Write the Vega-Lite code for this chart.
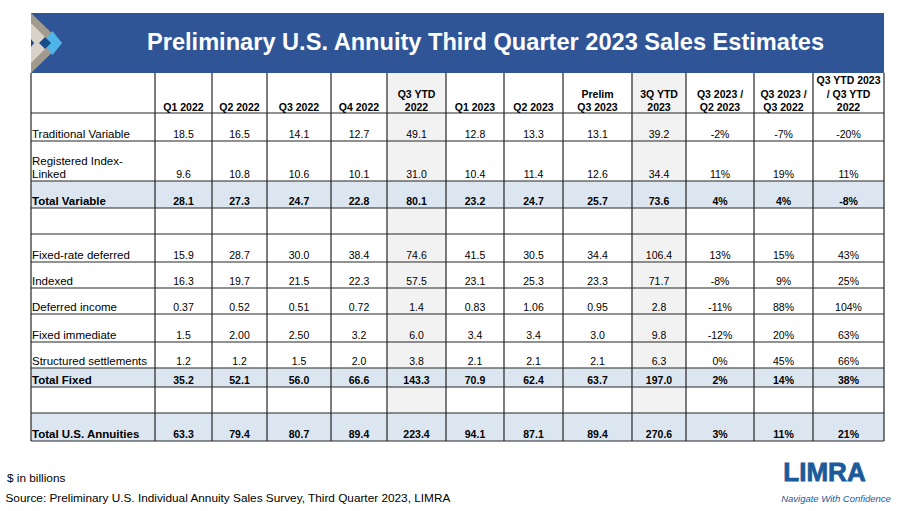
{
  "$schema": "https://vega.github.io/schema/vega-lite/v6.json",
  "width": 900,
  "height": 511,
  "autosize": {"type": "fit", "contains": "padding"},
  "padding": 0,
  "background": "white",
  "config": {"view": {"stroke": null}, "axis": {"disable": true}, "font": "Liberation Sans", "text": {"font": "Liberation Sans"}},
  "datasets": {
    "one": [{}],
    "columns": [
      {"key": "q1_22", "bot": "Q1 2022", "c": 1},
      {"key": "q2_22", "bot": "Q2 2022", "c": 2},
      {"key": "q3_22", "bot": "Q3 2022", "c": 3},
      {"key": "q4_22", "bot": "Q4 2022", "c": 4},
      {"key": "ytd22", "mid": "Q3 YTD", "bot": "2022", "c": 5},
      {"key": "q1_23", "bot": "Q1 2023", "c": 6},
      {"key": "q2_23", "bot": "Q2 2023", "c": 7},
      {"key": "q3_23", "mid": "Prelim", "bot": "Q3 2023", "c": 8},
      {"key": "ytd23", "mid": "3Q YTD", "bot": "2023", "c": 9},
      {"key": "qoq", "mid": "Q3 2023 /", "bot": "Q2 2023", "c": 10},
      {"key": "yoy", "mid": "Q3 2023 /", "bot": "Q3 2022", "c": 11},
      {"key": "ytdchg", "top": "Q3 YTD 2023", "mid": "/ Q3 YTD", "bot": "2022", "c": 12}
    ],
    "rows": [
      {"r": 1, "label": "Traditional Variable", "q1_22": "18.5", "q2_22": "16.5", "q3_22": "14.1", "q4_22": "12.7", "ytd22": "49.1", "q1_23": "12.8", "q2_23": "13.3", "q3_23": "13.1", "ytd23": "39.2", "qoq": "-2%", "yoy": "-7%", "ytdchg": "-20%"},
      {"r": 2, "label": "Registered Index-\nLinked", "q1_22": "9.6", "q2_22": "10.8", "q3_22": "10.6", "q4_22": "10.1", "ytd22": "31.0", "q1_23": "10.4", "q2_23": "11.4", "q3_23": "12.6", "ytd23": "34.4", "qoq": "11%", "yoy": "19%", "ytdchg": "11%"},
      {"r": 3, "label": "Total Variable", "q1_22": "28.1", "q2_22": "27.3", "q3_22": "24.7", "q4_22": "22.8", "ytd22": "80.1", "q1_23": "23.2", "q2_23": "24.7", "q3_23": "25.7", "ytd23": "73.6", "qoq": "4%", "yoy": "4%", "ytdchg": "-8%"},
      {"r": 4},
      {"r": 5, "label": "Fixed-rate deferred", "q1_22": "15.9", "q2_22": "28.7", "q3_22": "30.0", "q4_22": "38.4", "ytd22": "74.6", "q1_23": "41.5", "q2_23": "30.5", "q3_23": "34.4", "ytd23": "106.4", "qoq": "13%", "yoy": "15%", "ytdchg": "43%"},
      {"r": 6, "label": "Indexed", "q1_22": "16.3", "q2_22": "19.7", "q3_22": "21.5", "q4_22": "22.3", "ytd22": "57.5", "q1_23": "23.1", "q2_23": "25.3", "q3_23": "23.3", "ytd23": "71.7", "qoq": "-8%", "yoy": "9%", "ytdchg": "25%"},
      {"r": 7, "label": "Deferred income", "q1_22": "0.37", "q2_22": "0.52", "q3_22": "0.51", "q4_22": "0.72", "ytd22": "1.4", "q1_23": "0.83", "q2_23": "1.06", "q3_23": "0.95", "ytd23": "2.8", "qoq": "-11%", "yoy": "88%", "ytdchg": "104%"},
      {"r": 8, "label": "Fixed immediate", "q1_22": "1.5", "q2_22": "2.00", "q3_22": "2.50", "q4_22": "3.2", "ytd22": "6.0", "q1_23": "3.4", "q2_23": "3.4", "q3_23": "3.0", "ytd23": "9.8", "qoq": "-12%", "yoy": "20%", "ytdchg": "63%"},
      {"r": 9, "label": "Structured settlements", "q1_22": "1.2", "q2_22": "1.2", "q3_22": "1.5", "q4_22": "2.0", "ytd22": "3.8", "q1_23": "2.1", "q2_23": "2.1", "q3_23": "2.1", "ytd23": "6.3", "qoq": "0%", "yoy": "45%", "ytdchg": "66%"},
      {"r": 10, "label": "Total Fixed", "q1_22": "35.2", "q2_22": "52.1", "q3_22": "56.0", "q4_22": "66.6", "ytd22": "143.3", "q1_23": "70.9", "q2_23": "62.4", "q3_23": "63.7", "ytd23": "197.0", "qoq": "2%", "yoy": "14%", "ytdchg": "38%"},
      {"r": 11},
      {"r": 12, "label": "Total U.S. Annuities", "q1_22": "63.3", "q2_22": "79.4", "q3_22": "80.7", "q4_22": "89.4", "ytd22": "223.4", "q1_23": "94.1", "q2_23": "87.1", "q3_23": "89.4", "ytd23": "270.6", "qoq": "3%", "yoy": "11%", "ytdchg": "21%"}
    ]
  },
  "layer": [
    {
      "data": {"name": "one"},
      "mark": {"type": "rect", "color": "#2f5597"},
      "encoding": {
        "x": {"datum": 0, "type": "quantitative", "scale": {"domain": [0,1,2,3,4,5,6,7,8,9,10,11,12,13], "range": [31,155,212,267,331,387,446,504,563,632,686,754,813,884], "zero": false, "nice": false}},
        "x2": {"datum": 13},
        "y": {"datum": -1, "type": "quantitative", "scale": {"domain": [-1,0,1,2,3,4,5,6,7,8,9,10,11,12,13], "range": [13,73,113,141,181,208,234,262,288,314,342,368,387,413,441], "zero": false, "nice": false}},
        "y2": {"datum": 0}
      }
    },
    {
      "data": {"name": "one"},
      "mark": {"type": "point", "filled": true, "opacity": 1, "size": 3600, "strokeWidth": 0, "color": "#a39a8e", "shape": "M0,-1L1.033,0L0,1Z"},
      "encoding": {
        "x": {"datum": 0, "type": "quantitative", "scale": {"domain": [0,1,2,3,4,5,6,7,8,9,10,11,12,13], "range": [31,155,212,267,331,387,446,504,563,632,686,754,813,884], "zero": false, "nice": false}},
        "y": {"datum": -0.5, "type": "quantitative", "scale": {"domain": [-1,0,1,2,3,4,5,6,7,8,9,10,11,12,13], "range": [13,73,113,141,181,208,234,262,288,314,342,368,387,413,441], "zero": false, "nice": false}}
      }
    },
    {
      "data": {"name": "one"},
      "mark": {"type": "point", "filled": true, "opacity": 1, "size": 3600, "strokeWidth": 0, "color": "#d8d2c8", "shape": "M0,-0.667L0.667,0L0,0.667Z"},
      "encoding": {
        "x": {"datum": 0, "type": "quantitative", "scale": {"domain": [0,1,2,3,4,5,6,7,8,9,10,11,12,13], "range": [31,155,212,267,331,387,446,504,563,632,686,754,813,884], "zero": false, "nice": false}},
        "y": {"datum": -0.5, "type": "quantitative", "scale": {"domain": [-1,0,1,2,3,4,5,6,7,8,9,10,11,12,13], "range": [13,73,113,141,181,208,234,262,288,314,342,368,387,413,441], "zero": false, "nice": false}}
      }
    },
    {
      "data": {"name": "one"},
      "mark": {"type": "point", "filled": true, "opacity": 1, "size": 3600, "strokeWidth": 0, "color": "#4fb4e8", "shape": "M0.4,0L0.717,-0.4L1.033,0L0.717,0.4Z"},
      "encoding": {
        "x": {"datum": 0, "type": "quantitative", "scale": {"domain": [0,1,2,3,4,5,6,7,8,9,10,11,12,13], "range": [31,155,212,267,331,387,446,504,563,632,686,754,813,884], "zero": false, "nice": false}},
        "y": {"datum": -0.5, "type": "quantitative", "scale": {"domain": [-1,0,1,2,3,4,5,6,7,8,9,10,11,12,13], "range": [13,73,113,141,181,208,234,262,288,314,342,368,387,413,441], "zero": false, "nice": false}}
      }
    },
    {
      "data": {"name": "one"},
      "mark": {"type": "point", "filled": true, "opacity": 1, "size": 3600, "strokeWidth": 0, "color": "#1b4c8a", "shape": "M0.267,0L0.467,-0.2L0.667,0L0.467,0.2ZM0,-0.133L0.1,0L0,0.133Z"},
      "encoding": {
        "x": {"datum": 0, "type": "quantitative", "scale": {"domain": [0,1,2,3,4,5,6,7,8,9,10,11,12,13], "range": [31,155,212,267,331,387,446,504,563,632,686,754,813,884], "zero": false, "nice": false}},
        "y": {"datum": -0.5, "type": "quantitative", "scale": {"domain": [-1,0,1,2,3,4,5,6,7,8,9,10,11,12,13], "range": [13,73,113,141,181,208,234,262,288,314,342,368,387,413,441], "zero": false, "nice": false}}
      }
    },
    {
      "data": {"name": "one"},
      "mark": {"type": "text", "color": "white", "fontSize": 23.6, "fontWeight": "bold", "align": "center", "baseline": "middle", "dx": 10.5, "dy": 0},
      "encoding": {
        "text": {"value": "Preliminary U.S. Annuity Third Quarter 2023 Sales Estimates"},
        "x": {"datum": 6.5, "type": "quantitative", "scale": {"domain": [0,1,2,3,4,5,6,7,8,9,10,11,12,13], "range": [31,155,212,267,331,387,446,504,563,632,686,754,813,884], "zero": false, "nice": false}},
        "y": {"datum": -0.5, "type": "quantitative", "scale": {"domain": [-1,0,1,2,3,4,5,6,7,8,9,10,11,12,13], "range": [13,73,113,141,181,208,234,262,288,314,342,368,387,413,441], "zero": false, "nice": false}}
      }
    },
    {
      "data": {"name": "columns"},
      "transform": [
        {"filter": {"field": "key", "oneOf": ["ytd22", "ytd23"]}},
        {"calculate": "datum.c + 1", "as": "cx"}
      ],
      "mark": {"type": "rect", "color": "#f2f2f2"},
      "encoding": {
        "x": {"field": "c", "type": "quantitative", "scale": {"domain": [0,1,2,3,4,5,6,7,8,9,10,11,12,13], "range": [31,155,212,267,331,387,446,504,563,632,686,754,813,884], "zero": false, "nice": false}},
        "x2": {"field": "cx"},
        "y": {"datum": 0, "type": "quantitative", "scale": {"domain": [-1,0,1,2,3,4,5,6,7,8,9,10,11,12,13], "range": [13,73,113,141,181,208,234,262,288,314,342,368,387,413,441], "zero": false, "nice": false}},
        "y2": {"datum": 13}
      }
    },
    {
      "data": {"name": "rows"},
      "transform": [
        {"filter": {"field": "label", "oneOf": ["Total Variable", "Total Fixed", "Total U.S. Annuities"]}},
        {"calculate": "datum.r + 1", "as": "ry"}
      ],
      "mark": {"type": "rect", "color": "#dce6f1"},
      "encoding": {
        "x": {"datum": 0, "type": "quantitative", "scale": {"domain": [0,1,2,3,4,5,6,7,8,9,10,11,12,13], "range": [31,155,212,267,331,387,446,504,563,632,686,754,813,884], "zero": false, "nice": false}},
        "x2": {"datum": 13},
        "y": {"field": "r", "type": "quantitative", "scale": {"domain": [-1,0,1,2,3,4,5,6,7,8,9,10,11,12,13], "range": [13,73,113,141,181,208,234,262,288,314,342,368,387,413,441], "zero": false, "nice": false}},
        "y2": {"field": "ry"}
      }
    },
    {
      "data": {"name": "rows"},
      "mark": {"type": "rule", "color": "#262626", "strokeWidth": 1.2},
      "encoding": {
        "x": {"datum": 0, "type": "quantitative", "scale": {"domain": [0,1,2,3,4,5,6,7,8,9,10,11,12,13], "range": [31,155,212,267,331,387,446,504,563,632,686,754,813,884], "zero": false, "nice": false}},
        "x2": {"datum": 13},
        "y": {"field": "r", "type": "quantitative", "scale": {"domain": [-1,0,1,2,3,4,5,6,7,8,9,10,11,12,13], "range": [13,73,113,141,181,208,234,262,288,314,342,368,387,413,441], "zero": false, "nice": false}}
      }
    },
    {
      "data": {"name": "one"},
      "mark": {"type": "rule", "color": "#262626", "strokeWidth": 1.2},
      "encoding": {
        "x": {"datum": 0, "type": "quantitative", "scale": {"domain": [0,1,2,3,4,5,6,7,8,9,10,11,12,13], "range": [31,155,212,267,331,387,446,504,563,632,686,754,813,884], "zero": false, "nice": false}},
        "x2": {"datum": 13},
        "y": {"datum": 13, "type": "quantitative", "scale": {"domain": [-1,0,1,2,3,4,5,6,7,8,9,10,11,12,13], "range": [13,73,113,141,181,208,234,262,288,314,342,368,387,413,441], "zero": false, "nice": false}}
      }
    },
    {
      "data": {"name": "columns"},
      "mark": {"type": "rule", "color": "#262626", "strokeWidth": 1.2},
      "encoding": {
        "x": {"field": "c", "type": "quantitative", "scale": {"domain": [0,1,2,3,4,5,6,7,8,9,10,11,12,13], "range": [31,155,212,267,331,387,446,504,563,632,686,754,813,884], "zero": false, "nice": false}},
        "y": {"datum": 0, "type": "quantitative", "scale": {"domain": [-1,0,1,2,3,4,5,6,7,8,9,10,11,12,13], "range": [13,73,113,141,181,208,234,262,288,314,342,368,387,413,441], "zero": false, "nice": false}},
        "y2": {"datum": 13}
      }
    },
    {
      "data": {"name": "one"},
      "mark": {"type": "rule", "color": "#262626", "strokeWidth": 1.2},
      "encoding": {
        "x": {"datum": 0, "type": "quantitative", "scale": {"domain": [0,1,2,3,4,5,6,7,8,9,10,11,12,13], "range": [31,155,212,267,331,387,446,504,563,632,686,754,813,884], "zero": false, "nice": false}},
        "y": {"datum": 0, "type": "quantitative", "scale": {"domain": [-1,0,1,2,3,4,5,6,7,8,9,10,11,12,13], "range": [13,73,113,141,181,208,234,262,288,314,342,368,387,413,441], "zero": false, "nice": false}},
        "y2": {"datum": 13}
      }
    },
    {
      "data": {"name": "one"},
      "mark": {"type": "rule", "color": "#262626", "strokeWidth": 1.2},
      "encoding": {
        "x": {"datum": 13, "type": "quantitative", "scale": {"domain": [0,1,2,3,4,5,6,7,8,9,10,11,12,13], "range": [31,155,212,267,331,387,446,504,563,632,686,754,813,884], "zero": false, "nice": false}},
        "y": {"datum": 0, "type": "quantitative", "scale": {"domain": [-1,0,1,2,3,4,5,6,7,8,9,10,11,12,13], "range": [13,73,113,141,181,208,234,262,288,314,342,368,387,413,441], "zero": false, "nice": false}},
        "y2": {"datum": 13}
      }
    },
    {
      "data": {"name": "columns"},
      "transform": [{"calculate": "datum.c + 0.5", "as": "cm"}],
      "mark": {"type": "text", "color": "#000000", "fontSize": 10.5, "fontWeight": "bold", "align": "center", "baseline": "alphabetic", "dy": -2},
      "encoding": {
        "text": {"field": "bot", "type": "nominal"},
        "x": {"field": "cm", "type": "quantitative", "scale": {"domain": [0,1,2,3,4,5,6,7,8,9,10,11,12,13], "range": [31,155,212,267,331,387,446,504,563,632,686,754,813,884], "zero": false, "nice": false}},
        "y": {"datum": 1, "type": "quantitative", "scale": {"domain": [-1,0,1,2,3,4,5,6,7,8,9,10,11,12,13], "range": [13,73,113,141,181,208,234,262,288,314,342,368,387,413,441], "zero": false, "nice": false}}
      }
    },
    {
      "data": {"name": "columns"},
      "transform": [{"filter": "isValid(datum.mid)"}, {"calculate": "datum.c + 0.5", "as": "cm"}],
      "mark": {"type": "text", "color": "#000000", "fontSize": 10.5, "fontWeight": "bold", "align": "center", "baseline": "alphabetic", "dy": -15.3},
      "encoding": {
        "text": {"field": "mid", "type": "nominal"},
        "x": {"field": "cm", "type": "quantitative", "scale": {"domain": [0,1,2,3,4,5,6,7,8,9,10,11,12,13], "range": [31,155,212,267,331,387,446,504,563,632,686,754,813,884], "zero": false, "nice": false}},
        "y": {"datum": 1, "type": "quantitative", "scale": {"domain": [-1,0,1,2,3,4,5,6,7,8,9,10,11,12,13], "range": [13,73,113,141,181,208,234,262,288,314,342,368,387,413,441], "zero": false, "nice": false}}
      }
    },
    {
      "data": {"name": "columns"},
      "transform": [{"filter": "isValid(datum.top)"}, {"calculate": "datum.c + 0.5", "as": "cm"}],
      "mark": {"type": "text", "color": "#000000", "fontSize": 10.5, "fontWeight": "bold", "align": "center", "baseline": "alphabetic", "dy": -28.6},
      "encoding": {
        "text": {"field": "top", "type": "nominal"},
        "x": {"field": "cm", "type": "quantitative", "scale": {"domain": [0,1,2,3,4,5,6,7,8,9,10,11,12,13], "range": [31,155,212,267,331,387,446,504,563,632,686,754,813,884], "zero": false, "nice": false}},
        "y": {"datum": 1, "type": "quantitative", "scale": {"domain": [-1,0,1,2,3,4,5,6,7,8,9,10,11,12,13], "range": [13,73,113,141,181,208,234,262,288,314,342,368,387,413,441], "zero": false, "nice": false}}
      }
    },
    {
      "data": {"name": "rows"},
      "transform": [
        {"filter": "isValid(datum.label)"},
        {"filter": {"not": {"field": "label", "oneOf": ["Total Variable", "Total Fixed", "Total U.S. Annuities", "Registered Index-\nLinked"]}}},
        {"calculate": "datum.r + 1", "as": "ry"}
      ],
      "mark": {"type": "text", "color": "#000000", "fontSize": 11.5, "align": "left", "baseline": "alphabetic", "dx": 1, "dy": -3},
      "encoding": {
        "text": {"field": "label", "type": "nominal"},
        "x": {"datum": 0, "type": "quantitative", "scale": {"domain": [0,1,2,3,4,5,6,7,8,9,10,11,12,13], "range": [31,155,212,267,331,387,446,504,563,632,686,754,813,884], "zero": false, "nice": false}},
        "y": {"field": "ry", "type": "quantitative", "scale": {"domain": [-1,0,1,2,3,4,5,6,7,8,9,10,11,12,13], "range": [13,73,113,141,181,208,234,262,288,314,342,368,387,413,441], "zero": false, "nice": false}}
      }
    },
    {
      "data": {"name": "rows"},
      "transform": [
        {"filter": {"field": "label", "oneOf": ["Registered Index-\nLinked"]}},
        {"calculate": "datum.r + 1", "as": "ry"}
      ],
      "mark": {"type": "text", "color": "#000000", "fontSize": 11.5, "align": "left", "baseline": "alphabetic", "lineBreak": "\n", "lineHeight": 13.5, "dx": 1, "dy": -16.5},
      "encoding": {
        "text": {"field": "label", "type": "nominal"},
        "x": {"datum": 0, "type": "quantitative", "scale": {"domain": [0,1,2,3,4,5,6,7,8,9,10,11,12,13], "range": [31,155,212,267,331,387,446,504,563,632,686,754,813,884], "zero": false, "nice": false}},
        "y": {"field": "ry", "type": "quantitative", "scale": {"domain": [-1,0,1,2,3,4,5,6,7,8,9,10,11,12,13], "range": [13,73,113,141,181,208,234,262,288,314,342,368,387,413,441], "zero": false, "nice": false}}
      }
    },
    {
      "data": {"name": "rows"},
      "transform": [
        {"filter": {"field": "label", "oneOf": ["Total Variable", "Total Fixed", "Total U.S. Annuities"]}},
        {"calculate": "datum.r + 1", "as": "ry"}
      ],
      "mark": {"type": "text", "color": "#000000", "fontSize": 11.5, "fontWeight": "bold", "align": "left", "baseline": "alphabetic", "dx": 1, "dy": -3},
      "encoding": {
        "text": {"field": "label", "type": "nominal"},
        "x": {"datum": 0, "type": "quantitative", "scale": {"domain": [0,1,2,3,4,5,6,7,8,9,10,11,12,13], "range": [31,155,212,267,331,387,446,504,563,632,686,754,813,884], "zero": false, "nice": false}},
        "y": {"field": "ry", "type": "quantitative", "scale": {"domain": [-1,0,1,2,3,4,5,6,7,8,9,10,11,12,13], "range": [13,73,113,141,181,208,234,262,288,314,342,368,387,413,441], "zero": false, "nice": false}}
      }
    },
    {
      "data": {"name": "rows"},
      "transform": [
        {"filter": "isValid(datum.label)"},
        {"filter": {"not": {"field": "label", "oneOf": ["Total Variable", "Total Fixed", "Total U.S. Annuities"]}}},
        {"fold": ["q1_22", "q2_22", "q3_22", "q4_22", "ytd22", "q1_23", "q2_23", "q3_23", "ytd23", "qoq", "yoy", "ytdchg"], "as": ["key", "value"]},
        {"lookup": "key", "from": {"data": {"name": "columns"}, "key": "key", "fields": ["c"]}},
        {"calculate": "datum.c + 0.5", "as": "cm"},
        {"calculate": "datum.r + 1", "as": "ry"}
      ],
      "mark": {"type": "text", "color": "#000000", "fontSize": 10.5, "align": "center", "baseline": "alphabetic", "dy": -3},
      "encoding": {
        "text": {"field": "value", "type": "nominal"},
        "x": {"field": "cm", "type": "quantitative", "scale": {"domain": [0,1,2,3,4,5,6,7,8,9,10,11,12,13], "range": [31,155,212,267,331,387,446,504,563,632,686,754,813,884], "zero": false, "nice": false}},
        "y": {"field": "ry", "type": "quantitative", "scale": {"domain": [-1,0,1,2,3,4,5,6,7,8,9,10,11,12,13], "range": [13,73,113,141,181,208,234,262,288,314,342,368,387,413,441], "zero": false, "nice": false}}
      }
    },
    {
      "data": {"name": "rows"},
      "transform": [
        {"filter": {"field": "label", "oneOf": ["Total Variable", "Total Fixed", "Total U.S. Annuities"]}},
        {"fold": ["q1_22", "q2_22", "q3_22", "q4_22", "ytd22", "q1_23", "q2_23", "q3_23", "ytd23", "qoq", "yoy", "ytdchg"], "as": ["key", "value"]},
        {"lookup": "key", "from": {"data": {"name": "columns"}, "key": "key", "fields": ["c"]}},
        {"calculate": "datum.c + 0.5", "as": "cm"},
        {"calculate": "datum.r + 1", "as": "ry"}
      ],
      "mark": {"type": "text", "color": "#000000", "fontSize": 10.5, "fontWeight": "bold", "align": "center", "baseline": "alphabetic", "dy": -3},
      "encoding": {
        "text": {"field": "value", "type": "nominal"},
        "x": {"field": "cm", "type": "quantitative", "scale": {"domain": [0,1,2,3,4,5,6,7,8,9,10,11,12,13], "range": [31,155,212,267,331,387,446,504,563,632,686,754,813,884], "zero": false, "nice": false}},
        "y": {"field": "ry", "type": "quantitative", "scale": {"domain": [-1,0,1,2,3,4,5,6,7,8,9,10,11,12,13], "range": [13,73,113,141,181,208,234,262,288,314,342,368,387,413,441], "zero": false, "nice": false}}
      }
    },
    {
      "data": {"name": "one"},
      "mark": {"type": "text", "color": "#000000", "fontSize": 11.8, "align": "left", "baseline": "alphabetic", "dx": -24, "dy": 41},
      "encoding": {
        "text": {"value": "$ in billions"},
        "x": {"datum": 0, "type": "quantitative", "scale": {"domain": [0,1,2,3,4,5,6,7,8,9,10,11,12,13], "range": [31,155,212,267,331,387,446,504,563,632,686,754,813,884], "zero": false, "nice": false}},
        "y": {"datum": 13, "type": "quantitative", "scale": {"domain": [-1,0,1,2,3,4,5,6,7,8,9,10,11,12,13], "range": [13,73,113,141,181,208,234,262,288,314,342,368,387,413,441], "zero": false, "nice": false}}
      }
    },
    {
      "data": {"name": "one"},
      "mark": {"type": "text", "color": "#000000", "fontSize": 11.8, "align": "left", "baseline": "alphabetic", "dx": -25.5, "dy": 60.5},
      "encoding": {
        "text": {"value": "Source: Preliminary U.S. Individual Annuity Sales Survey, Third Quarter 2023, LIMRA"},
        "x": {"datum": 0, "type": "quantitative", "scale": {"domain": [0,1,2,3,4,5,6,7,8,9,10,11,12,13], "range": [31,155,212,267,331,387,446,504,563,632,686,754,813,884], "zero": false, "nice": false}},
        "y": {"datum": 13, "type": "quantitative", "scale": {"domain": [-1,0,1,2,3,4,5,6,7,8,9,10,11,12,13], "range": [13,73,113,141,181,208,234,262,288,314,342,368,387,413,441], "zero": false, "nice": false}}
      }
    },
    {
      "data": {"name": "one"},
      "mark": {"type": "text", "color": "#1d5a99", "fontSize": 26, "fontWeight": "bold", "stroke": "#1d5a99", "strokeWidth": 0.8, "align": "center", "baseline": "alphabetic", "dx": -24, "dy": 40},
      "encoding": {
        "text": {"value": "LIMRA"},
        "x": {"datum": 12.5, "type": "quantitative", "scale": {"domain": [0,1,2,3,4,5,6,7,8,9,10,11,12,13], "range": [31,155,212,267,331,387,446,504,563,632,686,754,813,884], "zero": false, "nice": false}},
        "y": {"datum": 13, "type": "quantitative", "scale": {"domain": [-1,0,1,2,3,4,5,6,7,8,9,10,11,12,13], "range": [13,73,113,141,181,208,234,262,288,314,342,368,387,413,441], "zero": false, "nice": false}}
      }
    },
    {
      "data": {"name": "one"},
      "mark": {"type": "text", "color": "#1d5a99", "fontSize": 9.5, "fontStyle": "italic", "align": "center", "baseline": "alphabetic", "dx": -12.5, "dy": 61},
      "encoding": {
        "text": {"value": "Navigate With Confidence"},
        "x": {"datum": 12.5, "type": "quantitative", "scale": {"domain": [0,1,2,3,4,5,6,7,8,9,10,11,12,13], "range": [31,155,212,267,331,387,446,504,563,632,686,754,813,884], "zero": false, "nice": false}},
        "y": {"datum": 13, "type": "quantitative", "scale": {"domain": [-1,0,1,2,3,4,5,6,7,8,9,10,11,12,13], "range": [13,73,113,141,181,208,234,262,288,314,342,368,387,413,441], "zero": false, "nice": false}}
      }
    }
  ]
}
